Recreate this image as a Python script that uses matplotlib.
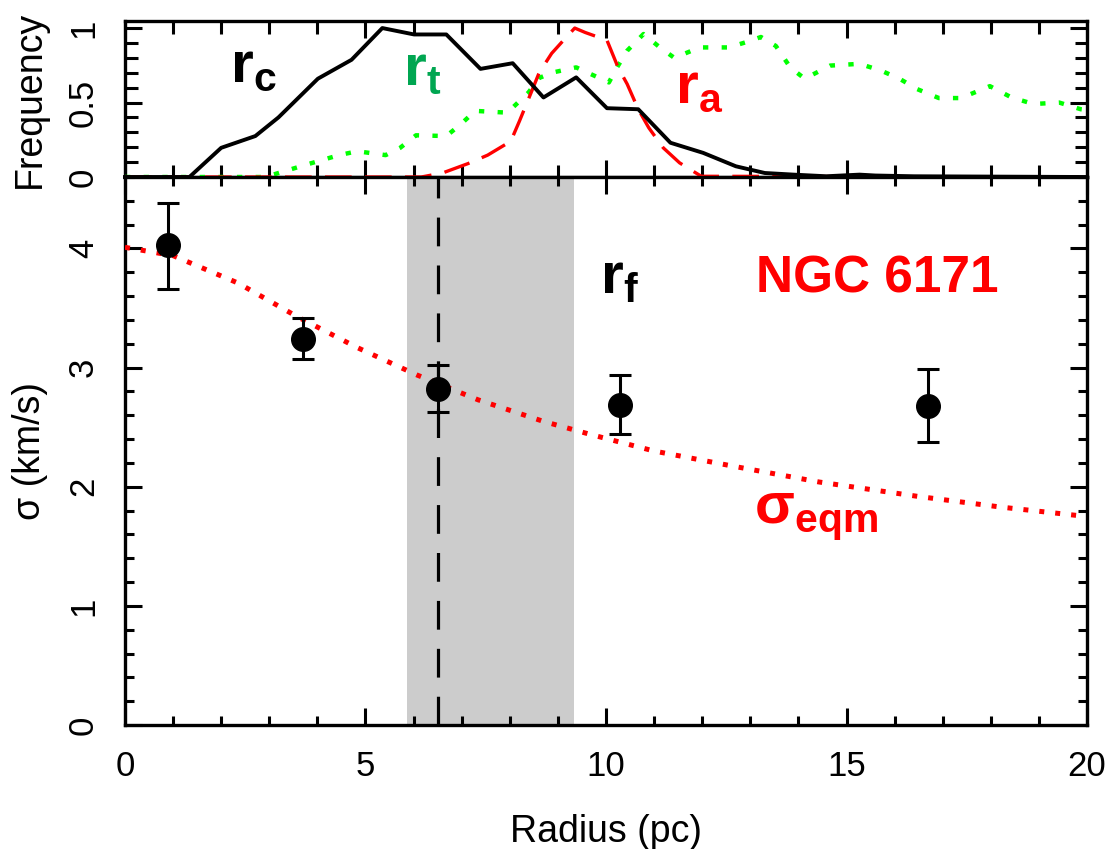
import numpy as np
import matplotlib.pyplot as plt
from matplotlib.ticker import MultipleLocator

plt.rcParams['font.family'] = ['Liberation Sans Narrow', 'Liberation Sans', 'DejaVu Sans']
plt.rcParams['mathtext.fontset'] = 'custom'
plt.rcParams['mathtext.bf'] = 'Liberation Sans:bold'
plt.rcParams['mathtext.rm'] = 'Liberation Sans'

# --- histograms (top panel) ---
rc_x = [0, 1.34, 2.0, 2.71, 3.19, 4.01, 4.71, 5.35, 6.01, 6.68, 7.39, 8.06, 8.70,
        9.38, 10.02, 10.67, 11.34, 12.02, 12.7, 13.3, 13.9, 14.58, 15.27, 15.6, 16.4, 20]
rc_y = [0, 0, 0.196, 0.275, 0.40, 0.66, 0.787, 1.0, 0.957, 0.957, 0.726, 0.764, 0.534,
        0.669, 0.462, 0.455, 0.230, 0.162, 0.072, 0.027, 0.016, 0.005, 0.016, 0.01, 0.005, 0]

rt_x = [0, 2.9, 3.12, 3.79, 4.45, 4.83, 5.42, 5.72, 6.05, 6.68, 6.98, 7.28, 7.95, 8.39,
        8.61, 8.91, 9.38, 10.06, 10.25, 10.44, 10.78, 11.12, 11.42, 11.95, 12.55, 12.92,
        13.22, 13.53, 13.83, 14.13, 14.66, 15.27, 15.72, 16.1, 16.47, 16.92, 17.38, 17.98,
        18.43, 18.89, 19.42, 19.87, 20]
rt_y = [0, 0, 0.02, 0.085, 0.147, 0.173, 0.147, 0.196, 0.28, 0.275, 0.354, 0.444, 0.432,
        0.568, 0.665, 0.703, 0.736, 0.635, 0.747, 0.848, 0.96, 0.87, 0.80, 0.87, 0.87, 0.906,
        0.94, 0.88, 0.736, 0.66, 0.748, 0.76, 0.714, 0.66, 0.59, 0.53, 0.53, 0.61,
        0.534, 0.49, 0.50, 0.455, 0.45]

ra_x = [0, 6.16, 6.6, 7.13, 7.54, 8.02, 8.2, 8.46, 8.61, 8.87, 9.15, 9.35, 9.57, 10.02,
        10.25, 10.44, 10.67, 10.89, 11.19, 11.53, 11.98, 20]
ra_y = [0, 0, 0.027, 0.09, 0.147, 0.24, 0.375, 0.58, 0.70, 0.83, 0.93, 1.0, 0.97, 0.918,
        0.736, 0.624, 0.455, 0.33, 0.196, 0.095, 0.005, 0]

# --- velocity dispersion (bottom panel) ---
radius_pts = [0.9, 3.7, 6.5, 10.3, 16.7]
sigma_pts = [4.03, 3.24, 2.82, 2.69, 2.68]
sigma_err_lo = [0.37, 0.17, 0.19, 0.25, 0.30]
sigma_err_hi = [0.35, 0.18, 0.20, 0.25, 0.31]

eqm_r = [0, 1.0, 2.35, 3.57, 4.82, 6.06, 7.34, 8.69, 9.67, 11.0, 12.68, 14.43, 16.47, 18.2, 20]
eqm_sigma = [4.01, 3.94, 3.71, 3.43, 3.17, 2.94, 2.73, 2.55, 2.44, 2.30, 2.17, 2.04, 1.92, 1.83, 1.75]

rf_lo, rf_hi = 5.86, 9.34
rf_mid = 6.5

fig = plt.figure(figsize=(11.09, 8.49), dpi=100)
ax_top = fig.add_axes([0.1127, 0.7915, 0.8675, 0.1837])
ax = fig.add_axes([0.1127, 0.146, 0.8675, 0.6455])

for a in (ax_top, ax):
    for s in a.spines.values():
        s.set_linewidth(2.4)
        s.set_zorder(1.5)
    a.set_xlim(0, 20)
    a.xaxis.set_major_locator(MultipleLocator(5))
    a.xaxis.set_minor_locator(MultipleLocator(1))
    a.tick_params(which='both', direction='in', top=True, right=True, width=2.2,
                  labelsize=25, pad=18)
    a.tick_params(which='major', length=12.5)
    a.tick_params(which='minor', length=6.5)

# top panel
ax_top.plot(rt_x, rt_y, color='#00ff00', lw=3.2, ls=(0, (1.2, 3.0)), zorder=2, clip_on=False)
ax_top.plot(ra_x, ra_y, color='red', lw=2.4, ls=(0, (8, 4)), zorder=2, clip_on=False)
ax_top.plot(rc_x, rc_y, color='black', lw=2.8, zorder=3, clip_on=False)
ax_top.set_ylim(0, 1.047)
ax_top.yaxis.set_major_locator(MultipleLocator(0.5))
ax_top.yaxis.set_minor_locator(MultipleLocator(0.1))
ax_top.yaxis.set_major_formatter(lambda v, p: '%g' % v)
ax_top.tick_params(which='minor', length=9)
ax_top.tick_params(labelbottom=False)
ax_top.set_ylabel('Frequency', fontsize=27)
ax_top.yaxis.set_label_coords(-0.08, 0.5)

ax_top.text(2.18, 0.635, r'$\mathbf{r_c}$', color='black', fontsize=42)
ax_top.text(5.78, 0.615, r'$\mathbf{r_t}$', color='#00a651', fontsize=42)
ax_top.text(11.43, 0.50, r'$\mathbf{r_a}$', color='red', fontsize=42)

# bottom panel
ax.axvspan(rf_lo, rf_hi, color='#cccccc', lw=0, zorder=0)
ax.axvline(rf_mid, color='black', lw=2.3, ls=(0, (9, 6)), zorder=1)
ax.plot(eqm_r, eqm_sigma, color='red', lw=3.6, ls=(0, (1.0, 2.2)), zorder=2)
ax.errorbar(radius_pts, sigma_pts, yerr=[sigma_err_lo, sigma_err_hi], fmt='o',
            color='black', ms=17, elinewidth=2.2, capsize=8, capthick=2.2, zorder=3)
ax.set_ylim(0, 4.6)
ax.yaxis.set_major_locator(MultipleLocator(1))
ax.yaxis.set_minor_locator(MultipleLocator(0.2))
ax.set_xlabel('Radius (pc)', fontsize=27, labelpad=22)
ax.set_ylabel('σ (km/s)', fontsize=27)
ax.yaxis.set_label_coords(-0.08, 0.5)

for a in (ax_top, ax):
    for lab in a.get_yticklabels():
        lab.set_rotation(90)
        lab.set_va('center')

ax.text(9.88, 3.63, r'$\mathbf{r_f}$', color='black', fontsize=42)
ax.text(13.12, 3.63, 'NGC 6171', color='red', fontsize=37,
        family='Liberation Sans', weight='bold')
ax.text(13.08, 1.70, r'$\mathbf{σ_{eqm}}$', color='red', fontsize=42)

fig.savefig('out.png', dpi=100)
